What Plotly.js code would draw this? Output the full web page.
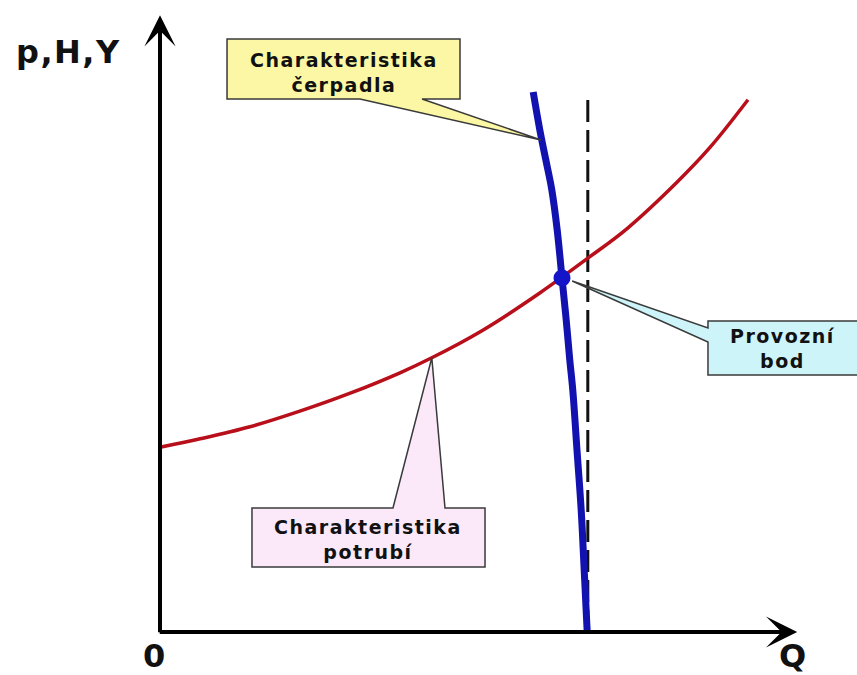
<!DOCTYPE html>
<html>
<head>
<meta charset="utf-8">
<script src="https://cdn.plot.ly/plotly-3.0.1.min.js"></script>
<style>
  html, body { margin: 0; padding: 0; background: #fff; }
  #chart { width: 857px; height: 675px; }
  .annotation-text { letter-spacing: 1.5px; }
</style>
</head>
<body>
<div id="chart"></div>
<script>
// Pipe characteristic (red)
const pipeQ = [0, 0.67, 1.5, 2.33, 3.17, 4.0, 4.53, 5.38, 6.33, 7.13, 7.78, 8.62, 9.17, 9.8];
const pipeH = [3.08, 3.22, 3.42, 3.68, 3.98, 4.32, 4.57, 5.03, 5.65, 6.23, 6.72, 7.5, 8.08, 8.87];
// Pump characteristic (blue)
const pumpQ = [6.22, 6.33, 6.43, 6.53, 6.62, 6.7, 6.77, 6.83, 6.88, 6.95, 7.02, 7.07, 7.12];
const pumpH = [9.0, 8.37, 7.87, 7.37, 6.7, 5.9, 5.2, 4.53, 4.03, 3.03, 2.03, 1.03, 0];
// Operating point
const opQ = [6.7];
const opH = [5.9];
// Vertical dashed line (max flow)
const limQ = [7.13, 7.13];
const limH = [0, 9.0];
// Axis extents (arrow tips)
const axisQEnd = 10.62;
const axisHEnd = 10.28;
// Labels
const yLabel = 'p,H,Y';
const xLabel = 'Q';
const originLabel = '0';
const pumpLabel = 'Charakteristika<br>čerpadla';
const pipeLabel = 'Charakteristika<br>potrubí';
const opLabel = 'Provozní<br>bod';

const FONT = 'DejaVu Sans, Verdana, Arial, sans-serif';

const traces = [
  { x: limQ, y: limH, mode: 'lines', line: { color: '#111', width: 3, dash: '22px,8px' }, hoverinfo: 'skip' },
  { x: pipeQ, y: pipeH, mode: 'lines', line: { color: '#b80f1a', width: 3.5, shape: 'spline' }, hoverinfo: 'skip' },
  { x: pumpQ, y: pumpH, mode: 'lines', line: { color: '#1212b0', width: 7, shape: 'spline' }, hoverinfo: 'skip' },
  { x: opQ, y: opH, mode: 'markers', marker: { color: '#1414c8', size: 17 }, hoverinfo: 'skip' }
];

function callout(x0, x1, y0, y1, side, b0, b1, tx, ty, fill) {
  let p;
  if (side === 'bottom') {
    p = `M${x0},${y1} L${x1},${y1} L${x1},${y0} L${b1},${y0} L${tx},${ty} L${b0},${y0} L${x0},${y0} Z`;
  } else if (side === 'top') {
    p = `M${x0},${y0} L${x1},${y0} L${x1},${y1} L${b1},${y1} L${tx},${ty} L${b0},${y1} L${x0},${y1} Z`;
  } else {
    p = `M${x0},${y1} L${x1},${y1} L${x1},${y0} L${x0},${y0} L${x0},${b0} L${tx},${ty} L${x0},${b1} Z`;
  }
  return { type: 'path', xref: 'x', yref: 'y', path: p, fillcolor: fill, line: { color: '#3a3a3a', width: 1.5 }, layer: 'above' };
}

const shapes = [
  callout(1.117, 5.0, 8.883, 9.883, 'bottom', 3.333, 4.367, 6.35, 8.2, '#fbf7a4'),
  callout(1.533, 5.417, 1.083, 2.067, 'top', 3.883, 4.75, pipeQ[6], pipeH[6], '#fbe9f9'),
  callout(9.133, 11.95, 4.283, 5.183, 'left', 4.833, 5.067, 6.87, 5.85, '#cdf4f9')
];

const arrowCommon = { showarrow: true, arrowhead: 3, arrowsize: 1.3, arrowwidth: 4, arrowcolor: '#000', text: '', axref: 'x', ayref: 'y', standoff: 0, startstandoff: 0 };

const bigFont = { family: FONT, size: 32, color: '#111', weight: 'bold' };
const boxFont = { family: FONT, size: 19, color: '#111', weight: 'bold' };

const annotations = [
  Object.assign({ x: 0, y: axisHEnd, ax: 0, ay: -0.03 }, arrowCommon),
  Object.assign({ x: axisQEnd, y: 0, ax: -0.03, ay: 0 }, arrowCommon),
  { x: -1.53, y: 9.66, xref: 'x', yref: 'y', text: yLabel, showarrow: false, font: bigFont },
  { x: -0.08, y: -0.4, xref: 'x', yref: 'y', text: originLabel, showarrow: false, font: bigFont },
  { x: 10.55, y: -0.4, xref: 'x', yref: 'y', text: xLabel, showarrow: false, font: bigFont },
  { x: 3.06, y: 9.33, xref: 'x', yref: 'y', text: pumpLabel, showarrow: false, font: boxFont },
  { x: 3.47, y: 1.55, xref: 'x', yref: 'y', text: pipeLabel, showarrow: false, font: boxFont },
  { x: 10.37, y: 4.72, xref: 'x', yref: 'y', text: opLabel, showarrow: false, font: boxFont }
];

const layout = {
  width: 857, height: 675,
  margin: { l: 0, r: 0, t: 0, b: 0, pad: 0 },
  paper_bgcolor: '#fff', plot_bgcolor: '#fff',
  showlegend: false,
  xaxis: { range: [-2.6667, 11.6167], visible: false, fixedrange: true },
  yaxis: { range: [-0.7167, 10.5333], visible: false, fixedrange: true },
  shapes: shapes,
  annotations: annotations
};

Plotly.newPlot('chart', traces, layout, { staticPlot: true, displayModeBar: false });
</script>
</body>
</html>
